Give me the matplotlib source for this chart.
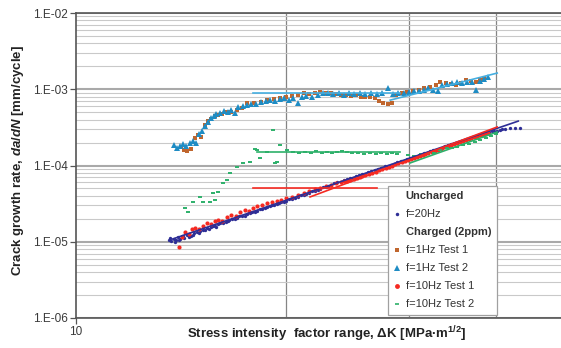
import matplotlib
matplotlib.use("Agg")
import matplotlib.pyplot as plt
from matplotlib.lines import Line2D
import matplotlib.ticker as mticker

plt.rcParams['font.family'] = ['Liberation Sans', 'DejaVu Sans']
plt.rcParams['mathtext.fontset'] = 'custom'
plt.rcParams['mathtext.it'] = 'Liberation Sans:italic:bold'
plt.rcParams['mathtext.rm'] = 'Liberation Sans:bold'
plt.rcParams['mathtext.bf'] = 'Liberation Sans:bold'

# ---------------- data ----------------
# Uncharged, f=20Hz
unc20_dk = [13.6, 13.7, 13.8, 13.9, 14.0, 14.1, 14.2, 14.3, 14.45, 14.6, 14.75, 14.9, 15.05, 15.2, 15.4,
            15.6, 15.8, 16.0, 16.25, 16.5, 16.75, 17.0, 17.3, 17.6, 17.9, 18.2, 18.5, 18.8, 19.1, 19.4,
            19.7, 20.0, 20.4, 20.8, 21.2, 21.6, 22.0, 22.4, 22.8, 23.2, 23.7, 24.2, 24.7, 25.2, 25.7,
            26.2, 26.8, 27.4, 28.0, 28.6, 29.2, 29.8, 30.4, 31.0, 31.6, 32.2, 32.8, 33.5, 34.2, 34.9,
            35.6, 36.3, 37.0, 37.7, 38.4, 39.1, 39.8, 40.5, 41.2, 41.9, 42.6, 43.3,
            13.65, 13.85, 14.05, 14.25, 14.5, 14.7, 15.0, 15.3, 15.5, 15.7, 15.9, 16.1, 16.4, 16.6, 16.9,
            17.15, 17.45, 17.75, 18.05, 18.35, 18.65, 18.95, 19.25, 19.55, 19.85, 20.2, 20.6, 21.0, 21.4,
            21.8, 22.2, 22.6, 23.0, 23.45, 23.95, 24.45, 24.95, 25.45, 25.95, 26.5, 27.1, 27.7, 28.3,
            28.9, 29.5, 30.1, 30.7, 31.3, 31.9, 32.5, 33.15, 33.85, 34.55, 35.25, 35.95, 36.65, 37.35,
            38.05, 38.75, 39.45, 40.15, 40.85]
unc20_dadn = [1.07e-5, 1.02e-5, 1.10e-5, 1.06e-5, 1.14e-5, 1.09e-5, 1.18e-5, 1.13e-5, 1.24e-5, 1.20e-5,
              1.30e-5, 1.33e-5, 1.38e-5, 1.42e-5, 1.50e-5, 1.56e-5, 1.62e-5, 1.70e-5, 1.78e-5, 1.88e-5,
              1.97e-5, 2.06e-5, 2.18e-5, 2.30e-5, 2.44e-5, 2.56e-5, 2.70e-5, 2.86e-5, 3.00e-5, 3.15e-5,
              3.30e-5, 3.45e-5, 3.65e-5, 3.92e-5, 4.15e-5, 4.42e-5, 4.68e-5, 4.98e-5, 5.28e-5, 5.60e-5,
              6.00e-5, 6.40e-5, 6.80e-5, 7.25e-5, 7.70e-5, 8.15e-5, 8.70e-5, 9.30e-5, 9.95e-5, 1.06e-4,
              1.13e-4, 1.21e-4, 1.29e-4, 1.36e-4, 1.45e-4, 1.53e-4, 1.62e-4, 1.72e-4, 1.84e-4, 1.97e-4,
              2.09e-4, 2.22e-4, 2.35e-4, 2.48e-4, 2.62e-4, 2.72e-4, 2.82e-4, 2.92e-4, 3.00e-4, 3.06e-4,
              3.10e-4, 3.12e-4,
              1.12e-5, 1.00e-5, 1.05e-5, 1.20e-5, 1.17e-5, 1.24e-5, 1.30e-5, 1.44e-5, 1.48e-5, 1.62e-5,
              1.58e-5, 1.75e-5, 1.80e-5, 1.95e-5, 1.99e-5, 2.15e-5, 2.20e-5, 2.40e-5, 2.46e-5, 2.66e-5,
              2.74e-5, 2.96e-5, 3.04e-5, 3.26e-5, 3.34e-5, 3.60e-5, 3.74e-5, 4.08e-5, 4.24e-5, 4.60e-5,
              4.78e-5, 5.18e-5, 5.36e-5, 5.85e-5, 6.10e-5, 6.68e-5, 6.95e-5, 7.55e-5, 7.85e-5, 8.55e-5,
              8.95e-5, 9.75e-5, 1.02e-4, 1.11e-4, 1.16e-4, 1.26e-4, 1.31e-4, 1.42e-4, 1.48e-4, 1.59e-4,
              1.66e-4, 1.80e-4, 1.89e-4, 2.05e-4, 2.14e-4, 2.30e-4, 2.40e-4, 2.57e-4, 2.66e-4, 2.80e-4,
              2.86e-4, 2.98e-4]
unc20_fit_dk = [13.73, 43.07]
unc20_fit_dadn = [1.08e-5, 3.82e-4]

# Charged, f=1Hz Test 1
c1t1_dk = [14.15, 14.3, 14.45, 14.6, 14.8, 14.95, 15.1, 15.3, 15.45, 15.6, 15.8, 16.0, 16.2, 16.45, 16.7,
           17.0, 17.3, 17.6, 18.0, 18.4, 18.8, 19.2, 19.6, 20.0, 20.4, 20.8, 21.2, 21.6, 22.0, 22.4,
           22.8, 23.2, 23.6, 24.0, 24.4, 24.8, 25.2, 25.6, 26.0, 26.4, 26.8, 27.2, 27.6, 28.0, 28.4,
           28.8, 29.3, 29.8, 30.4, 31.0, 31.6, 32.2, 32.8, 33.3, 33.9, 34.5, 35.1, 35.7, 36.3, 36.9,
           37.5, 38.0, 38.5]
c1t1_dadn = [1.75e-4, 1.62e-4, 1.55e-4, 1.65e-4, 2.30e-4, 2.55e-4, 2.40e-4, 3.40e-4, 3.80e-4, 4.10e-4,
             4.40e-4, 4.60e-4, 4.75e-4, 5.00e-4, 5.10e-4, 5.35e-4, 5.60e-4, 6.60e-4, 6.70e-4, 6.90e-4,
             7.30e-4, 7.50e-4, 7.70e-4, 7.90e-4, 8.10e-4, 8.40e-4, 8.80e-4, 8.60e-4, 8.90e-4, 9.10e-4,
             8.80e-4, 9.00e-4, 8.60e-4, 8.40e-4, 8.30e-4, 8.20e-4, 8.40e-4, 7.90e-4, 7.80e-4, 8.00e-4,
             7.60e-4, 7.00e-4, 6.70e-4, 6.50e-4, 6.60e-4, 8.50e-4, 8.90e-4, 9.20e-4, 9.50e-4, 9.80e-4,
             1.03e-3, 1.07e-3, 1.15e-3, 1.25e-3, 1.21e-3, 1.18e-3, 1.14e-3, 1.22e-3, 1.32e-3, 1.28e-3,
             1.25e-3, 1.33e-3, 1.41e-3]

# Charged, f=1Hz Test 2
c1t2_dk = [13.8, 13.95, 14.1, 14.25, 14.4, 14.55, 14.7, 14.85, 15.0, 15.15, 15.3, 15.45, 15.6, 15.75, 15.9,
           16.1, 16.3, 16.5, 16.7, 16.9, 17.1, 17.35, 17.6, 17.85, 18.1, 18.4, 18.7, 19.0, 19.3, 19.6,
           19.9, 20.2, 20.5, 20.8, 21.1, 21.4, 21.8, 22.2, 22.6, 23.0, 23.4, 23.8, 24.2, 24.6, 25.0,
           25.5, 26.0, 26.5, 27.0, 27.5, 28.0, 28.5, 29.0, 29.5, 30.0, 30.5, 31.0, 31.5, 32.0, 32.5,
           33.0, 33.5, 34.0, 34.6, 35.2, 35.8, 36.4, 37.0, 37.5, 38.0, 38.5, 39.0]
c1t2_dadn = [1.85e-4, 1.70e-4, 1.78e-4, 1.90e-4, 1.82e-4, 2.00e-4, 2.10e-4, 1.95e-4, 2.60e-4, 2.80e-4,
             3.30e-4, 3.70e-4, 4.20e-4, 4.50e-4, 4.70e-4, 4.90e-4, 5.20e-4, 5.05e-4, 5.35e-4, 4.90e-4,
             5.80e-4, 6.10e-4, 6.30e-4, 6.50e-4, 6.40e-4, 6.80e-4, 7.05e-4, 7.20e-4, 7.00e-4, 7.40e-4,
             7.60e-4, 7.30e-4, 7.70e-4, 6.60e-4, 7.90e-4, 8.20e-4, 8.00e-4, 8.50e-4, 8.80e-4, 9.00e-4,
             8.60e-4, 8.80e-4, 8.50e-4, 8.90e-4, 8.70e-4, 9.00e-4, 8.60e-4, 8.90e-4, 8.70e-4, 8.80e-4,
             1.05e-3, 8.60e-4, 8.90e-4, 8.80e-4, 9.20e-4, 9.40e-4, 9.60e-4, 9.90e-4, 1.05e-3, 9.80e-4,
             9.40e-4, 1.12e-3, 1.18e-3, 1.22e-3, 1.25e-3, 1.22e-3, 1.26e-3, 1.24e-3, 9.80e-4, 1.30e-3,
             1.38e-3, 1.45e-3]
c1_fit1_dk = [17.95, 29.16]
c1_fit1_dadn = [8.9e-4, 8.9e-4]
c1_fit2_dk = [28.22, 40.18]
c1_fit2_dadn = [7.2e-4, 1.63e-3]

# Charged, f=10Hz Test 1
c10t1_dk = [14.05, 14.2, 14.35, 14.5, 14.65, 14.8, 15.0, 15.2, 15.4, 15.6, 15.8, 16.0, 16.2, 16.45, 16.7,
            16.95, 17.2, 17.45, 17.7, 17.95, 18.2, 18.5, 18.8, 19.1, 19.4, 19.7, 20.0, 20.4, 20.8, 21.2,
            21.6, 22.0, 22.4, 22.8, 23.2, 23.6, 24.0, 24.5, 25.0, 25.5, 26.0, 26.6, 27.2, 27.8, 28.4,
            29.0, 29.6, 30.2, 30.8, 31.4, 32.0, 32.7, 33.4, 34.1, 34.8, 35.5, 36.2, 36.9, 37.6, 38.3,
            39.0,
            24.25, 24.75, 25.25, 25.75, 26.3, 26.9, 27.5, 28.1, 28.7, 29.3, 29.9, 30.5, 31.1, 31.7,
            32.35, 33.05, 33.75, 34.45, 35.15, 35.85, 36.55, 37.25, 37.95, 38.65]
c10t1_dadn = [8.5e-6, 1.15e-5, 1.35e-5, 1.25e-5, 1.45e-5, 1.52e-5, 1.48e-5, 1.62e-5, 1.75e-5, 1.70e-5,
              1.85e-5, 1.95e-5, 1.88e-5, 2.10e-5, 2.25e-5, 2.20e-5, 2.45e-5, 2.62e-5, 2.55e-5, 2.80e-5,
              2.95e-5, 3.05e-5, 3.20e-5, 3.30e-5, 3.42e-5, 3.55e-5, 3.70e-5, 3.92e-5, 4.12e-5, 4.35e-5,
              4.60e-5, 4.85e-5, 5.10e-5, 5.35e-5, 5.60e-5, 5.85e-5, 6.00e-5, 6.35e-5, 6.70e-5, 7.10e-5,
              7.55e-5, 8.05e-5, 8.65e-5, 9.30e-5, 9.95e-5, 1.07e-4, 1.14e-4, 1.22e-4, 1.30e-4, 1.38e-4,
              1.46e-4, 1.56e-4, 1.67e-4, 1.78e-4, 1.90e-4, 2.02e-4, 2.14e-4, 2.27e-4, 2.40e-4, 2.55e-4,
              2.70e-4,
              6.2e-5, 6.5e-5, 6.95e-5, 7.3e-5, 7.85e-5, 8.3e-5, 9.0e-5, 9.6e-5, 1.04e-4, 1.10e-4,
              1.18e-4, 1.25e-4, 1.34e-4, 1.41e-4, 1.52e-4, 1.61e-4, 1.73e-4, 1.83e-4, 1.96e-4, 2.07e-4,
              2.21e-4, 2.33e-4, 2.48e-4, 2.62e-4]
c10_fit1_dk = [17.95, 27.03]
c10_fit1_dadn = [5.07e-5, 5.07e-5]
c10_fit2_dk = [21.66, 40.18]
c10_fit2_dadn = [3.87e-5, 3.2e-4]

# Charged, f=10Hz Test 2
c10t2_dk = [14.33, 14.47, 14.72, 15.06, 15.21, 15.57, 15.72, 15.83, 16.0, 16.25, 16.47, 16.63, 17.02, 17.36,
            17.77, 18.07, 18.19, 18.37, 18.79, 19.17, 19.3, 19.42, 19.62, 20.07, 20.5, 20.9, 21.3, 21.7,
            22.1, 22.5, 22.9, 23.3, 23.7, 24.1, 24.5, 24.9, 25.4, 25.9, 26.4, 26.9, 27.4, 27.9, 28.4,
            28.9, 29.9, 30.5, 31.2, 31.9, 32.6, 33.3, 34.0, 34.6, 35.2, 35.9, 36.6, 37.3, 38.0, 38.7,
            39.3, 40.0]
c10t2_dadn = [2.77e-5, 2.45e-5, 3.32e-5, 3.86e-5, 3.32e-5, 3.32e-5, 4.36e-5, 3.53e-5, 4.50e-5, 5.90e-5,
              6.50e-5, 8.00e-5, 9.50e-5, 1.08e-4, 1.11e-4, 1.65e-4, 1.60e-4, 1.25e-4, 1.50e-4, 2.92e-4,
              1.08e-4, 1.11e-4, 1.86e-4, 1.60e-4, 1.52e-4, 1.45e-4, 1.50e-4, 1.47e-4, 1.55e-4, 1.48e-4,
              1.52e-4, 1.45e-4, 1.50e-4, 1.56e-4, 1.50e-4, 1.45e-4, 1.48e-4, 1.43e-4, 1.46e-4, 1.42e-4,
              1.45e-4, 1.40e-4, 1.44e-4, 1.40e-4, 1.38e-4, 1.32e-4, 1.40e-4, 1.48e-4, 1.45e-4, 1.62e-4,
              1.72e-4, 1.68e-4, 1.74e-4, 1.85e-4, 1.92e-4, 2.02e-4, 2.15e-4, 2.30e-4, 2.42e-4, 2.60e-4]
c10t2_fit1_dk = [18.19, 29.16]
c10t2_fit1_dadn = [1.5e-4, 1.5e-4]
c10t2_fit2_dk = [30.14, 40.18]
c10t2_fit2_dadn = [1.08e-4, 2.75e-4]

y_ticks = [1e-6, 1e-5, 1e-4, 1e-3, 1e-2]
y_tick_labels = ['1.E-06', '1.E-05', '1.E-04', '1.E-03', '1.E-02']
x_ticks = [10]
x_tick_labels = ['10']
x_grid = [20, 30, 40]

# ---------------- styles ----------------
c_navy = '#2E2E96'
c_brown = '#C0662E'
c_blue = '#1E8CC4'
c_red = '#F52A22'
c_green = '#2DB06A'
c_lblue = '#45AEE0'

W, H = 561, 348
fig = plt.figure(figsize=(W / 100, H / 100), dpi=100)
ax = fig.add_axes([76 / W, 1 - 318 / H, 1 - 76 / W, (318 - 13) / H])
ax.set_xscale('log')
ax.set_yscale('log')
ax.set_xlim(10, 49.6)
ax.set_ylim(1e-6, 1e-2)

ax.yaxis.set_major_locator(mticker.FixedLocator(y_ticks))
ax.yaxis.set_major_formatter(mticker.FixedFormatter(y_tick_labels))
ax.yaxis.set_minor_locator(mticker.LogLocator(base=10, subs=range(2, 10), numticks=20))
ax.yaxis.set_minor_formatter(mticker.NullFormatter())
ax.xaxis.set_major_locator(mticker.FixedLocator(x_ticks))
ax.xaxis.set_major_formatter(mticker.FixedFormatter(x_tick_labels))
ax.xaxis.set_minor_locator(mticker.FixedLocator(x_grid))
ax.xaxis.set_minor_formatter(mticker.NullFormatter())

ax.grid(which='minor', axis='y', color='#C9C9C9', lw=0.8)
ax.grid(which='major', axis='y', color='#A9A9A9', lw=1.5)
ax.grid(which='minor', axis='x', color='#858585', lw=0.9)
ax.set_axisbelow(True)

ax.tick_params(which='minor', length=0)
ax.tick_params(which='major', length=4, width=0.9, color='#555555', labelsize=8.5,
               labelcolor='#3A3A3A', pad=2)
for s in ('left', 'bottom', 'top'):
    ax.spines[s].set_color('#555555')
    ax.spines[s].set_linewidth(1.2)
ax.spines['right'].set_visible(False)

# points
ax.plot(unc20_dk, unc20_dadn, ls='none', marker='o', ms=2.4, mew=0, color=c_navy, zorder=3)
ax.plot(c10t1_dk, c10t1_dadn, ls='none', marker='o', ms=3.0, mew=0, color=c_red, zorder=3)
ax.plot(c10t2_dk, c10t2_dadn, ls='none', marker='_', ms=3.4, mew=1.4, color=c_green, zorder=3)
ax.plot(c1t1_dk, c1t1_dadn, ls='none', marker='s', ms=3.4, mew=0, color=c_brown, zorder=3)
ax.plot(c1t2_dk, c1t2_dadn, ls='none', marker='^', ms=4.3, mew=0, color=c_blue, zorder=3)

# fit lines
ax.plot(unc20_fit_dk, unc20_fit_dadn, color=c_navy, lw=1.2, zorder=4)
ax.plot(c10_fit1_dk, c10_fit1_dadn, color=c_red, lw=1.2, zorder=4)
ax.plot(c10_fit2_dk, c10_fit2_dadn, color=c_red, lw=1.2, zorder=4)
ax.plot(c10t2_fit1_dk, c10t2_fit1_dadn, color=c_green, lw=1.2, zorder=4)
ax.plot(c10t2_fit2_dk, c10t2_fit2_dadn, color=c_green, lw=1.2, zorder=4)
ax.plot(c1_fit1_dk, c1_fit1_dadn, color=c_lblue, lw=1.2, zorder=4)
ax.plot(c1_fit2_dk, c1_fit2_dadn, color=c_lblue, lw=1.2, zorder=4)

ax.set_xlabel('Stress intensity  factor range, \u0394K [MPa\u00b7m$^{1/2}$]', fontsize=9.5,
              fontweight='bold', color='#222222')
ax.set_ylabel('Crack growth rate, $da/dN$ [mm/cycle]', fontsize=9.5, fontweight='bold',
              color='#222222')
ax.xaxis.set_label_coords(0.518, -0.022)
ax.yaxis.set_label_coords(-0.103, 0.516)

handles = [Line2D([], [], ls='none'),
           Line2D([], [], ls='none', marker='o', ms=2.5, mew=0, color=c_navy),
           Line2D([], [], ls='none'),
           Line2D([], [], ls='none', marker='s', ms=3.5, mew=0, color=c_brown),
           Line2D([], [], ls='none', marker='^', ms=4.0, mew=0, color=c_blue),
           Line2D([], [], ls='none', marker='o', ms=3.5, mew=0, color=c_red),
           Line2D([], [], ls='none', marker='_', ms=3.5, mew=1.2, color=c_green)]
labels = ['Uncharged', 'f=20Hz', 'Charged (2ppm)', 'f=1Hz Test 1', 'f=1Hz Test 2',
          'f=10Hz Test 1', 'f=10Hz Test 2']
leg = ax.legend(handles, labels, loc='upper left', bbox_to_anchor=(0.643, 0.433),
                borderaxespad=0, frameon=True, fancybox=False, edgecolor='#A0A0A0',
                fontsize=8, handlelength=0.6, handletextpad=0.5, labelspacing=0.72,
                borderpad=0.5, framealpha=1)
leg.get_frame().set_linewidth(0.9)
for i, t in enumerate(leg.get_texts()):
    t.set_color('#333333')
    if i in (0, 2):
        t.set_fontweight('bold')

fig.savefig('out.png', dpi=100)
